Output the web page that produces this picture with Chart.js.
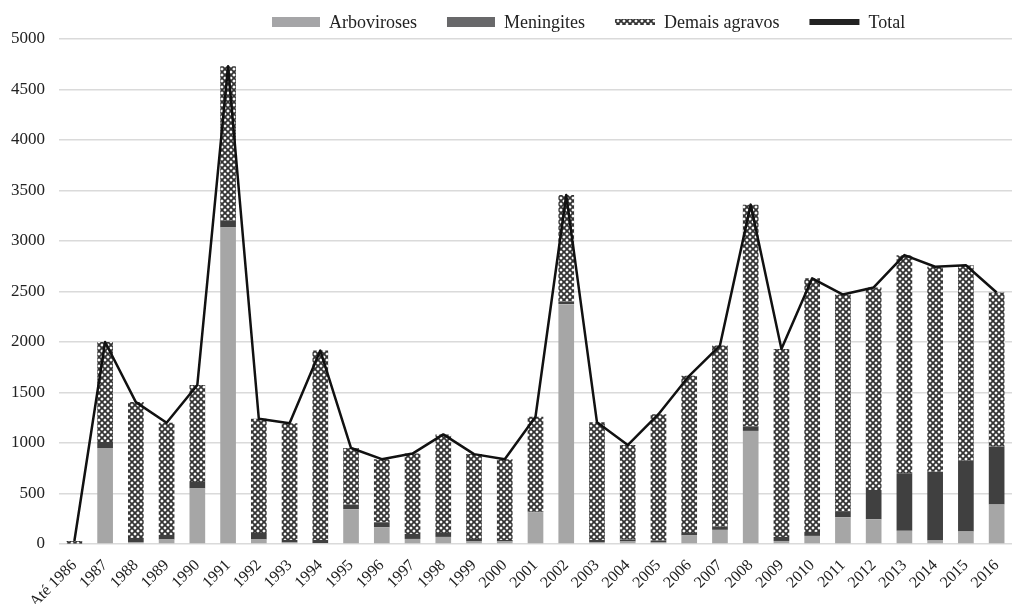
<!DOCTYPE html>
<html>
<head>
<meta charset="utf-8">
<script src="https://cdn.jsdelivr.net/npm/chart.js@4/dist/chart.umd.min.js"></script>
<style>
  html, body { margin: 0; padding: 0; background: #fff; }
  #wrap { width: 1012px; height: 604px; }
</style>
</head>
<body>
<div id="wrap"><canvas id="c"></canvas></div>
<script>
// categorias (anos) e séries
var anos = ['Até 1986', '1987', '1988', '1989', '1990', '1991', '1992', '1993', '1994', '1995',
  '1996', '1997', '1998', '1999', '2000', '2001', '2002', '2003', '2004', '2005', '2006',
  '2007', '2008', '2009', '2010', '2011', '2012', '2013', '2014', '2015', '2016'];

var arboviroses = [0, 950, 20, 45, 550, 3135, 45, 15, 10, 345, 165, 50, 70, 25, 25, 315,
  2375, 20, 25, 15, 85, 140, 1120, 30, 80, 265, 245, 130, 35, 125, 390];

var meningites = [5, 60, 40, 45, 65, 65, 65, 25, 30, 45, 50, 50, 40, 25, 15, 5,
  25, 20, 20, 20, 25, 30, 45, 40, 40, 60, 290, 570, 680, 700, 575];

var demaisAgravos = [25, 990, 1345, 1110, 960, 1530, 1130, 1155, 1875, 560, 625, 795, 975, 840, 800, 940,
  1055, 1165, 935, 1250, 1555, 1795, 2195, 1860, 2510, 2145, 2005, 2160, 2030, 1935, 1525];

var total = [30, 2000, 1405, 1200, 1575, 4730, 1240, 1195, 1915, 950, 840, 895, 1085, 890, 840, 1260,
  3455, 1205, 980, 1285, 1665, 1965, 3360, 1930, 2630, 2470, 2540, 2860, 2745, 2760, 2490];

var yTicks = [0, 500, 1000, 1500, 2000, 2500, 3000, 3500, 4000, 4500, 5000];

var FONT = "'Liberation Serif', 'DejaVu Serif', serif";
var COR_ARBO = '#a6a6a6';
var COR_MEN = '#404040';

// hachura dos "demais agravos"
function makeHatch() {
  var t = document.createElement('canvas');
  t.width = 6; t.height = 6;
  var g = t.getContext('2d');
  g.fillStyle = '#ffffff';
  g.fillRect(0, 0, 6, 6);
  g.strokeStyle = '#333333';
  g.lineWidth = 1.8;
  g.beginPath();
  g.moveTo(-1, -1); g.lineTo(7, 7);
  g.moveTo(7, -1); g.lineTo(-1, 7);
  g.stroke();
  return document.getElementById('c').getContext('2d').createPattern(t, 'repeat');
}
var hatch = makeHatch();

// legenda desenhada à mão (caixas de tamanhos diferentes)
var legendItems = [
  { text: 'Arboviroses', kind: 'box', color: '#a5a5a7', w: 48, h: 10 },
  { text: 'Meningites', kind: 'box', color: '#68686a', w: 48, h: 10 },
  { text: 'Demais agravos', kind: 'hatch', w: 40, h: 6 },
  { text: 'Total', kind: 'box', color: '#222222', w: 50, h: 6 }
];

var legendPlugin = {
  id: 'legendaManual',
  afterDraw: function (chart) {
    var ctx = chart.ctx;
    ctx.save();
    ctx.font = '18px ' + FONT;
    ctx.textBaseline = 'middle';
    var x = 272, y = 22;
    legendItems.forEach(function (it) {
      ctx.fillStyle = it.kind === 'hatch' ? hatch : it.color;
      ctx.fillRect(x, y - it.h / 2, it.w, it.h);
      x += it.w + 9;
      ctx.fillStyle = '#222';
      ctx.fillText(it.text, x, y + 1);
      x += ctx.measureText(it.text).width + 30;
    });
    ctx.restore();
  }
};

new Chart(document.getElementById('c'), {
  data: {
    labels: anos,
    datasets: [
      {
        type: 'line', label: 'Total', data: total, stack: 'total',
        borderColor: '#111', borderWidth: 2.5, borderJoinStyle: 'round',
        pointRadius: 0, tension: 0, fill: false, order: 0
      },
      {
        type: 'bar', label: 'Arboviroses', data: arboviroses, stack: 'a',
        backgroundColor: COR_ARBO, barPercentage: 0.51, categoryPercentage: 1, order: 1
      },
      {
        type: 'bar', label: 'Meningites', data: meningites, stack: 'a',
        backgroundColor: COR_MEN, barPercentage: 0.51, categoryPercentage: 1, order: 1
      },
      {
        type: 'bar', label: 'Demais agravos', data: demaisAgravos, stack: 'a',
        backgroundColor: hatch, barPercentage: 0.51, categoryPercentage: 1, order: 1
      }
    ]
  },
  options: {
    animation: false,
    responsive: true,
    maintainAspectRatio: false,
    layout: { padding: { top: 39, right: 0, bottom: 0, left: 0 } },
    scales: {
      x: {
        stacked: true,
        grid: { display: false },
        border: { display: false },
        ticks: {
          color: '#222', font: { family: FONT, size: 16 },
          minRotation: 45, maxRotation: 45, autoSkip: false, padding: 4
        },
        afterFit: function (s) { s.height = 60; s.paddingRight = 0; s.paddingLeft = 0; }
      },
      y: {
        stacked: true,
        min: 0, max: 5000,
        afterBuildTicks: function (s) { s.ticks = yTicks.map(function (v) { return { value: v }; }); },
        grid: { color: '#dadada', lineWidth: 1.5, drawTicks: false },
        border: { display: false },
        ticks: {
          color: '#222', font: { family: FONT, size: 17 }, padding: 14,
          callback: function (v) { return String(v); }
        },
        afterFit: function (s) { s.width = 59; }
      }
    },
    plugins: {
      legend: { display: false },
      tooltip: { enabled: false }
    }
  },
  plugins: [legendPlugin]
});
</script>
</body>
</html>
